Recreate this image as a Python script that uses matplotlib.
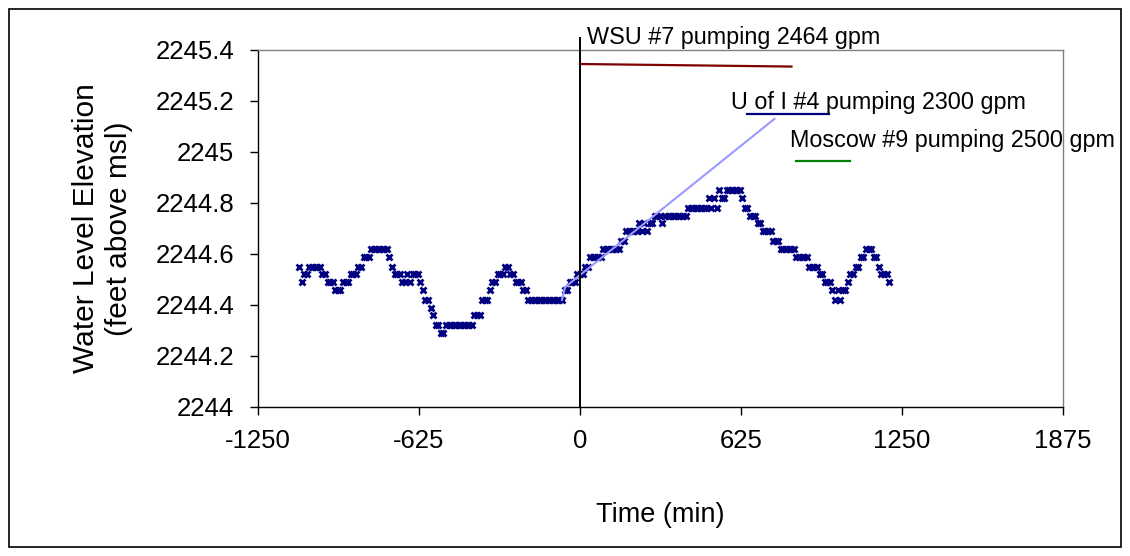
import matplotlib
matplotlib.use("Agg")
import matplotlib.pyplot as plt
from matplotlib.patches import Rectangle
from matplotlib.ticker import FuncFormatter

plt.rcParams['font.family'] = ['Liberation Sans', 'DejaVu Sans']
plt.rcParams['axes.unicode_minus'] = False

# observation well readings, every 10 minutes (pumping starts at t = 0)
minutes = list(range(-1090, 1201, 10))
level = [
    2244.55, 2244.49, 2244.52, 2244.52, 2244.55, 2244.55, 2244.55, 2244.55, 2244.55, 2244.52,
    2244.52, 2244.49, 2244.49, 2244.49, 2244.46, 2244.46, 2244.46, 2244.49, 2244.49, 2244.49,
    2244.52, 2244.52, 2244.52, 2244.55, 2244.55, 2244.59, 2244.59, 2244.59, 2244.62, 2244.62,
    2244.62, 2244.62, 2244.62, 2244.62, 2244.62, 2244.59, 2244.55, 2244.52, 2244.52, 2244.52,
    2244.49, 2244.49, 2244.52, 2244.49, 2244.52, 2244.52, 2244.52, 2244.49, 2244.46, 2244.42,
    2244.42, 2244.39, 2244.36, 2244.32, 2244.32, 2244.29, 2244.29, 2244.32, 2244.32, 2244.32,
    2244.32, 2244.32, 2244.32, 2244.32, 2244.32, 2244.32, 2244.32, 2244.32, 2244.36, 2244.36,
    2244.36, 2244.42, 2244.42, 2244.42, 2244.46, 2244.49, 2244.49, 2244.52, 2244.52, 2244.52,
    2244.55, 2244.55, 2244.52, 2244.52, 2244.49, 2244.49, 2244.49, 2244.46, 2244.46, 2244.42,
    2244.42, 2244.42, 2244.42, 2244.42, 2244.42, 2244.42, 2244.42, 2244.42, 2244.42, 2244.42,
    2244.42, 2244.42, 2244.42, 2244.46, 2244.46, 2244.49, 2244.49, 2244.49, 2244.52, 2244.52,
    2244.52, 2244.55, 2244.55, 2244.59, 2244.59, 2244.59, 2244.59, 2244.59, 2244.62, 2244.62,
    2244.62, 2244.62, 2244.62, 2244.62, 2244.62, 2244.65, 2244.65, 2244.69, 2244.69, 2244.69,
    2244.69, 2244.69, 2244.72, 2244.69, 2244.72, 2244.69, 2244.72, 2244.72, 2244.75, 2244.75,
    2244.75, 2244.72, 2244.75, 2244.75, 2244.75, 2244.75, 2244.75, 2244.75, 2244.75, 2244.75,
    2244.75, 2244.78, 2244.78, 2244.78, 2244.78, 2244.78, 2244.78, 2244.78, 2244.78, 2244.82,
    2244.78, 2244.82, 2244.78, 2244.85, 2244.82, 2244.82, 2244.85, 2244.85, 2244.85, 2244.85,
    2244.85, 2244.85, 2244.82, 2244.78, 2244.78, 2244.75, 2244.75, 2244.75, 2244.72, 2244.72,
    2244.69, 2244.69, 2244.69, 2244.69, 2244.65, 2244.65, 2244.65, 2244.62, 2244.62, 2244.62,
    2244.62, 2244.62, 2244.62, 2244.59, 2244.59, 2244.59, 2244.59, 2244.59, 2244.55, 2244.55,
    2244.55, 2244.55, 2244.52, 2244.52, 2244.49, 2244.49, 2244.49, 2244.46, 2244.42, 2244.46,
    2244.42, 2244.46, 2244.46, 2244.49, 2244.52, 2244.52, 2244.55, 2244.55, 2244.59, 2244.59,
    2244.62, 2244.62, 2244.62, 2244.59, 2244.59, 2244.55, 2244.52, 2244.52, 2244.52, 2244.49,
]

# trend through the drawdown period
trend_t = [-70, -58, 755]
trend_v = [2244.42, 2244.47, 2245.13]

# pumping periods of the nearby production wells
wsu_t = [0, 821]
wsu_v = [2245.345, 2245.335]
ui_t = [647, 967]
ui_v = [2245.15, 2245.15]
moscow_t = [838, 1048]
moscow_v = [2244.965, 2244.965]

# pump start marker
start_t = [0, 0]
start_v = [2244.0, 2245.447]

x_ticks = [-1250, -625, 0, 625, 1250, 1875]
y_ticks = [2244, 2244.2, 2244.4, 2244.6, 2244.8, 2245, 2245.2, 2245.4]

fig = plt.figure(figsize=(11.3, 5.56), dpi=100)
ax = fig.add_axes([0.2283, 0.268, 0.7124, 0.6421])

ax.plot(minutes, level, ls='none', marker='x', color='#000080',
        ms=5, mew=2, zorder=3)
ax.plot(trend_t, trend_v, color='#9999ff', lw=1.5, zorder=4)
ax.plot(wsu_t, wsu_v, color='#800000', lw=1.6)
ax.plot(ui_t, ui_v, color='#000080', lw=1.6)
ax.plot(moscow_t, moscow_v, color='#008000', lw=1.6)
ax.plot(start_t, start_v, color='black', lw=1.4, clip_on=False, zorder=5)

ax.text(27, 2245.447, 'WSU #7 pumping 2464 gpm', fontsize=16.8, va='center')
ax.text(587, 2245.196, 'U of I #4 pumping 2300 gpm', fontsize=16.8, va='center')
ax.text(817, 2245.047, 'Moscow #9 pumping 2500 gpm', fontsize=16.8, va='center')

ax.set_xlim(-1250, 1875)
ax.set_ylim(2244, 2245.4)
ax.set_xticks(x_ticks)
ax.set_yticks(y_ticks)
ax.yaxis.set_major_formatter(FuncFormatter(lambda v, p: '%g' % round(v, 1)))
ax.tick_params(direction='out', length=6, width=1, labelsize=18.5)
ax.tick_params(axis='y', pad=11)
ax.tick_params(axis='x', pad=10)

for side in ['left', 'bottom']:
    ax.spines[side].set_color('black')
    ax.spines[side].set_linewidth(1)
for side in ['top', 'right']:
    ax.spines[side].set_color('#808080')
    ax.spines[side].set_linewidth(1)

ax.set_xlabel('Time (min)', fontsize=19.5, labelpad=35)
ax.set_ylabel('Water Level Elevation\n(feet above msl)', fontsize=21.5,
              labelpad=16, linespacing=1.25)

fig.patches.append(Rectangle((9 / 1130, 1 - 547 / 556), 1112 / 1130, 538 / 556,
                             transform=fig.transFigure, fill=False,
                             edgecolor='black', lw=1.2))

fig.savefig('out.png', dpi=100)
